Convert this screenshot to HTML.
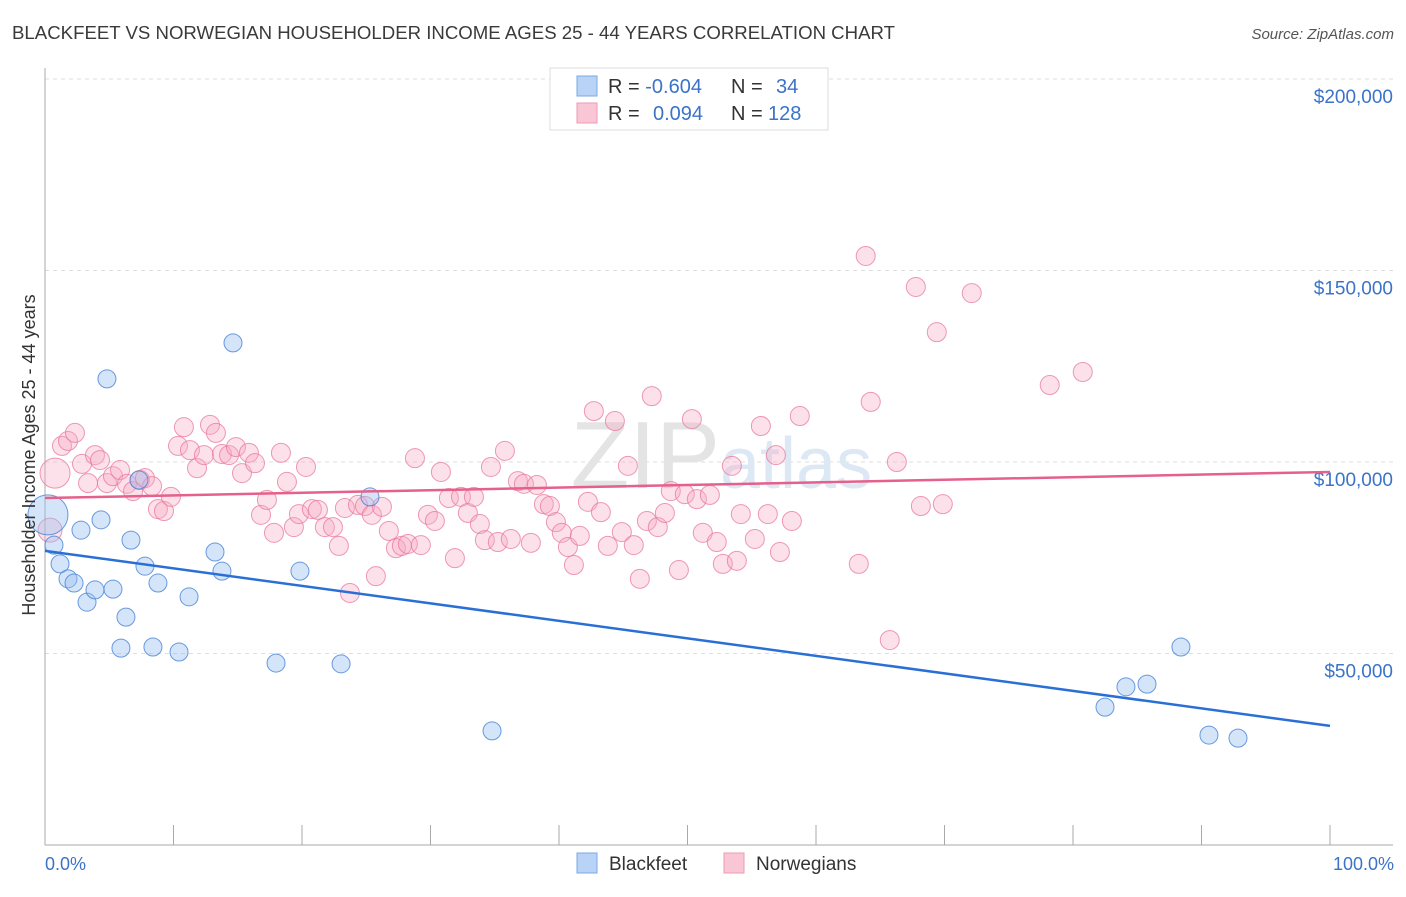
<!DOCTYPE html>
<html><head><meta charset="utf-8"><style>
body{margin:0;background:#fff;font-family:"Liberation Sans",sans-serif}
svg text{font-family:"Liberation Sans",sans-serif}
</style></head><body>
<svg id="chart" width="1406" height="892" viewBox="0 0 1406 892" xmlns="http://www.w3.org/2000/svg">
<text x="12" y="39" font-size="18.5" fill="#3a3a3a" textLength="883" lengthAdjust="spacingAndGlyphs">BLACKFEET VS NORWEGIAN HOUSEHOLDER INCOME AGES 25 - 44 YEARS CORRELATION CHART</text>
<text x="1394" y="39" font-size="15" fill="#555" font-style="italic" text-anchor="end">Source: ZipAtlas.com</text>
<g id="grid"></g>
<text x="720" y="488" font-size="96" fill="#e4e4e4" text-anchor="end" font-family="Liberation Serif">ZIP</text>
<text x="720" y="488" font-size="72" fill="#dde8f5">atlas</text>
<g id="axes"></g>
<g id="pink"></g>
<g id="blue"></g>
<g id="trends"></g>
<text x="35" y="455" font-size="18" fill="#333" text-anchor="middle" transform="rotate(-90 35 455)">Householder Income Ages 25 - 44 years</text>
<text x="45" y="870" font-size="18" fill="#3b73c8">0.0%</text>
<text x="1394" y="870" font-size="18" fill="#3b73c8" text-anchor="end">100.0%</text>
<g>
<rect x="550" y="68" width="278" height="62" fill="#fff" stroke="#ddd"/>
<rect x="577" y="76" width="20" height="20" fill="#b8d3f5" stroke="#7aa9e6"/>
<rect x="577" y="103" width="20" height="20" fill="#f9c6d5" stroke="#ee9ab3"/>
<text x="608" y="93" font-size="20" fill="#333">R = <tspan fill="#3b73c8">-0.604</tspan><tspan x="731">N = </tspan><tspan x="776" fill="#3b73c8">34</tspan></text>
<text x="608" y="120" font-size="20" fill="#333">R = <tspan x="653" fill="#3b73c8">0.094</tspan><tspan x="731">N = </tspan><tspan x="768" fill="#3b73c8">128</tspan></text>
</g>
<g>
<rect x="577" y="853" width="20" height="20" fill="#b8d3f5" stroke="#7aa9e6"/>
<text x="609" y="870" font-size="19" fill="#333">Blackfeet</text>
<rect x="724" y="853" width="20" height="20" fill="#f9c6d5" stroke="#ee9ab3"/>
<text x="756" y="870" font-size="19" fill="#333">Norwegians</text>
</g>
</svg>
<script>
const yTicks=[50000,100000,150000,200000];
const yTickLabels=["$50,000","$100,000","$150,000","$200,000"];
const blueX=[0.23,0.7,1.17,1.79,2.26,2.8,3.27,3.89,4.36,4.82,5.29,5.91,6.3,6.69,7.31,7.78,8.4,8.79,10.43,11.21,13.23,13.77,14.63,17.98,19.84,23.04,25.29,34.79,82.49,84.12,85.76,88.4,90.58,92.84];
const blueY=[86.2,78.3,73.4,69.5,68.4,82.2,63.4,66.6,84.9,121.7,66.8,51.4,59.5,79.6,95.3,72.8,51.7,68.4,50.4,64.8,76.5,71.5,131.1,47.5,71.5,47.3,90.9,29.8,36.0,41.3,42.0,51.7,28.7,27.9];
const pinkX=[0.78,0.39,1.32,1.79,2.33,2.88,3.35,3.89,4.28,4.82,5.29,5.84,6.38,6.85,7.39,7.78,8.33,8.79,9.26,9.8,10.35,10.81,11.28,11.83,12.37,12.84,13.3,13.77,14.32,14.86,15.33,15.87,16.34,16.81,17.27,17.82,18.36,18.83,19.37,19.76,20.31,20.77,21.24,21.78,22.41,22.87,23.34,23.73,24.35,24.9,25.44,25.75,26.22,26.76,27.31,27.77,28.24,28.79,29.25,29.8,30.34,30.81,31.43,31.9,32.37,32.91,33.38,33.84,34.23,34.7,35.24,35.79,36.25,36.8,37.27,37.81,38.28,38.82,39.29,39.76,40.22,40.69,41.16,41.62,42.25,42.71,43.26,43.8,44.35,44.89,45.36,45.82,46.29,46.84,47.22,47.69,48.24,48.7,49.33,49.79,50.34,50.73,51.19,51.74,52.28,52.75,53.45,53.84,54.15,55.24,55.71,56.25,56.88,57.19,58.12,58.74,63.33,63.87,64.26,65.74,66.29,67.77,68.16,69.4,69.87,72.12,78.19,80.76];
const pinkY=[97.1,82.2,104.2,105.5,107.6,99.5,94.5,101.8,100.5,94.5,96.3,97.9,94.3,92.4,95.3,95.8,93.7,87.7,87.2,90.9,104.2,109.1,103.1,98.4,101.8,109.7,107.6,102.1,101.8,103.9,97.1,102.4,99.7,86.2,90.1,81.5,102.4,94.8,83.0,86.4,98.7,87.7,87.5,83.0,83.0,78.1,88.0,65.8,88.8,88.5,86.2,70.2,88.3,82.0,77.5,78.1,78.6,101.0,78.3,86.2,84.6,97.4,90.6,74.9,90.9,86.7,90.9,83.8,79.6,98.7,79.1,102.9,79.9,95.0,94.3,78.9,94.0,89.0,88.5,84.3,81.5,77.8,73.1,80.7,89.6,113.3,86.9,78.1,110.7,81.7,99.0,78.3,69.5,84.6,117.2,83.0,86.7,92.4,71.8,91.6,111.2,90.3,81.5,91.4,79.1,73.4,99.0,74.2,86.4,79.9,109.4,86.4,101.8,76.5,84.6,112.0,73.4,153.8,115.7,53.5,100.0,145.7,88.5,133.9,89.0,144.1,120.1,123.5];
const blueTrend=[76.8,31.1];
const pinkTrend=[90.6,97.4];
const NS='http://www.w3.org/2000/svg';
const X=p=>45+p*12.85;
const Y=k=>845-k/0.2611;
function mk(t,a,parent){const e=document.createElementNS(NS,t);for(const k in a)e.setAttribute(k,a[k]);parent.appendChild(e);return e;}
const grid=document.getElementById('grid');
yTicks.forEach((v,i)=>{
  const l=mk('line',{x1:45,x2:1393,y1:Y(v/1000),y2:Y(v/1000),stroke:'#ddd','stroke-dasharray':'4 4'},grid);
  
  
  const t=mk('text',{x:1393,y:Y(v/1000)+24,'font-size':19,fill:'#3b73c8','text-anchor':'end'},grid);
  t.textContent=yTickLabels[i];
  
  
});
const axes=document.getElementById('axes');
let a1=mk('line',{x1:45,x2:45,y1:68,y2:845,stroke:'#aaa'},axes);


let a2=mk('line',{x1:45,x2:1393,y1:845,y2:845,stroke:'#aaa'},axes);


for(let i=0;i<=10;i++){
  const t=mk('line',{x1:X(i*10),x2:X(i*10),y1:825,y2:845,stroke:'#aaa'},axes);
  
  
}
const pg=document.getElementById('pink');
pinkX.forEach((x,i)=>{
  const r=i===0?15:(i===1?12:9.5);
  const c=mk('circle',{cx:X(x),cy:Y(pinkY[i]),r:r,fill:'rgba(246,170,195,0.35)',stroke:'rgba(232,120,155,0.75)','stroke-width':1},pg);
  
  
});
const bg=document.getElementById('blue');
blueX.forEach((x,i)=>{
  const r=i===0?20:9;
  const c=mk('circle',{cx:X(x),cy:Y(blueY[i]),r:r,fill:'rgba(150,190,240,0.4)',stroke:'rgba(70,130,215,0.8)','stroke-width':1},bg);
  
  
});
const tg=document.getElementById('trends');
let t1=mk('line',{x1:X(0),x2:X(100),y1:Y(pinkTrend[0]),y2:Y(pinkTrend[1]),stroke:'#e5608a','stroke-width':2.5},tg);


let t2=mk('line',{x1:X(0),x2:X(100),y1:Y(blueTrend[0]),y2:Y(blueTrend[1]),stroke:'#2a6fd6','stroke-width':2.5},tg);


</script>
</body></html>
